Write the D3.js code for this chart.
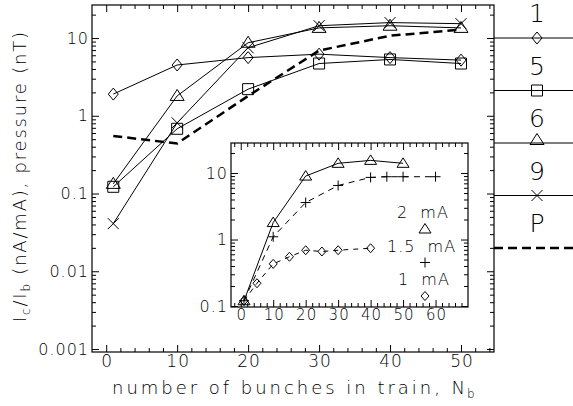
<!DOCTYPE html>
<html>
<head>
<meta charset="utf-8">
<script src="https://d3js.org/d3.v7.min.js"></script>
<style>
  body { margin: 0; background: #fff; }
  svg text { font-family: "DejaVu Sans", "Liberation Sans", sans-serif; font-weight: 200; fill: #000; }
  .tick line { stroke: #000; stroke-width: 1px; }
  .tick text { letter-spacing: 1px; }
  .frame { fill: none; stroke: #000; stroke-width: 1.2px; }
  .serie { fill: none; stroke: #000; stroke-width: 1px; }
  .marker { fill: none; stroke: #000; stroke-width: 1px; }
</style>
</head>
<body>
<svg id="chart" width="573" height="406"></svg>
<script>
// ---- main panel data
const bunches = [1, 10, 20, 30, 40, 50];
const ratio1 = [1.9, 4.5, 5.6, 6.2, 5.6, 5.2];
const ratio5 = [0.122, 0.68, 2.2, 4.7, 5.3, 4.7];
const ratio6 = [0.133, 1.8, 8.7, 13.5, 14.4, 13.5];
const ratio9 = [0.041, 0.81, 7.5, 14.4, 15.8, 15.3];
const pressure = [0.55, 0.44, 1.8, 6.9, 10.7, 12.8];
const legendLabels = ["1", "5", "6", "9", "P"];
const xTicks = [0, 10, 20, 30, 40, 50];
const yTicks = [0.001, 0.01, 0.1, 1, 10];
const yTickLabels = ["0.001", "0.01", "0.1", "1", "10"];

// ---- inset data
const inset2x = [1, 10, 20, 30, 40, 50];
const inset2mA = [0.12, 1.8, 9, 14, 15.5, 14];
const inset15x = [1, 10, 20, 30, 40, 45, 50, 60];
const inset15mA = [0.12, 1.1, 3.6, 6.5, 8.6, 8.8, 8.8, 8.8];
const inset1x = [1, 5, 10, 15, 20, 25, 30, 40];
const inset1mA = [0.12, 0.22, 0.43, 0.55, 0.69, 0.66, 0.69, 0.74];
const insetLabels = ["2  mA", "1.5  mA", "1  mA"];
const insetXTicks = [0, 10, 20, 30, 40, 50, 60];
const insetYTicks = [0.1, 1, 10];
const insetYTickLabels = ["0.1", "1", "10"];

const svg = d3.select("#chart");

// marker shapes, centred on 0,0
const shapes = {
  diamond: "M0,-6L5,0L0,6L-5,0Z",
  square: "M-5.5,-5.5h11v11h-11Z",
  triangle: "M0,-6.5L7,4.5L-7,4.5Z",
  cross: "M-5.5,-5.5L5.5,5.5M5.5,-5.5L-5.5,5.5",
  smallTriangle: "M0,-5.5L6,4L-6,4Z",
  plus: "M-5,0H5M0,-5V5",
  smallDiamond: "M0,-4.5L4,0L0,4.5L-4,0Z"
};

// minor ticks of a log axis (2..9 of every decade inside the domain)
function logMinor(domain) {
  const out = [];
  for (let e = Math.floor(Math.log10(domain[0])); e <= Math.ceil(Math.log10(domain[1])); e++) {
    for (let k = 2; k <= 9; k++) {
      const v = k * Math.pow(10, e);
      if (v > domain[0] && v < domain[1]) out.push(v);
    }
  }
  return out;
}

// draws one set of ticks (inward) with optional labels
function ticks(g, axis, values, size, labels, pad) {
  const a = axis.tickValues(values).tickSizeInner(-size).tickSizeOuter(0).tickPadding(pad || 3)
    .tickFormat((d, i) => labels ? labels[i] : "");
  g.call(a);
  g.select(".domain").remove();
  return g;
}

function panel(x, y, box, opt) {
  const xMinor = d3.range(Math.ceil(x.domain()[0] / 2) * 2, x.domain()[1], 2)
    .filter(v => v % 10 !== 0 && v > x.domain()[0]);
  const yMinor = logMinor(y.domain());

  const gb = svg.append("g").attr("transform", `translate(0,${box.bottom})`);
  ticks(gb.append("g"), d3.axisBottom(x), opt.xTicks, 7, opt.xTicks.map(String), opt.xPad)
    .selectAll("text").style("font-size", opt.xFont + "px").attr("dx", "0.5px");
  ticks(gb.append("g"), d3.axisBottom(x), xMinor, 4);

  const gt = svg.append("g").attr("transform", `translate(0,${box.top})`);
  ticks(gt.append("g"), d3.axisTop(x), opt.xTicks, 7);
  ticks(gt.append("g"), d3.axisTop(x), xMinor, 4);

  const gl = svg.append("g").attr("transform", `translate(${box.left},0)`);
  ticks(gl.append("g"), d3.axisLeft(y), opt.yTicks, 7, opt.yLabels, opt.yPad)
    .selectAll("text").style("font-size", opt.yFont + "px");
  ticks(gl.append("g"), d3.axisLeft(y), yMinor, 4);

  const gr = svg.append("g").attr("transform", `translate(${box.right},0)`);
  ticks(gr.append("g"), d3.axisRight(y), opt.yTicks, 7);
  ticks(gr.append("g"), d3.axisRight(y), yMinor, 4);

  svg.append("rect").attr("class", "frame")
    .attr("x", box.left).attr("y", box.top)
    .attr("width", box.right - box.left).attr("height", box.bottom - box.top);
}

function serie(x, y, xs, ys, shape, dash, width) {
  const line = d3.line().x(d => x(d[0])).y(d => y(d[1]));
  const pts = d3.zip(xs, ys);
  svg.append("path").attr("class", "serie").attr("d", line(pts))
    .style("stroke-dasharray", dash || null)
    .style("stroke-width", width || 1);
  if (shape) {
    svg.append("g").selectAll("path").data(pts).join("path")
      .attr("class", "marker").attr("d", shapes[shape])
      .attr("transform", d => `translate(${x(d[0])},${y(d[1])})`);
  }
}

// ---- main panel
const main = { left: 92, right: 494, top: 5, bottom: 352 };
const x = d3.scaleLinear().domain([-2, 54.65]).range([main.left, main.right]);
const y = d3.scaleLog().domain([0.000915, 26.6]).range([main.bottom, main.top]);

panel(x, y, main, { xTicks, yTicks, yLabels: yTickLabels, xFont: 17, yFont: 16, xPad: 3, yPad: 3 });

serie(x, y, bunches, ratio1, "diamond");
serie(x, y, bunches, ratio5, "square");
serie(x, y, bunches, ratio6, "triangle");
serie(x, y, bunches, ratio9, "cross");
serie(x, y, bunches, pressure, null, "9,5", 2.5);

// ---- legend on the right
const legendShapes = ["diamond", "square", "triangle", "cross", null];
legendLabels.forEach((lab, i) => {
  const ly = 38 + i * 52.5;
  svg.append("text").attr("x", 537).attr("y", ly - 16)
    .attr("text-anchor", "middle").style("font-size", "25px").text(lab);
  svg.append("line").attr("x1", main.right).attr("x2", 573).attr("y1", ly).attr("y2", ly)
    .attr("stroke", "#000")
    .attr("stroke-width", legendShapes[i] ? 1 : 2.5)
    .attr("stroke-dasharray", legendShapes[i] ? null : "9,5");
  if (legendShapes[i]) {
    svg.append("path").attr("class", "marker").attr("d", shapes[legendShapes[i]])
      .attr("transform", `translate(537,${legendShapes[i] === "triangle" ? ly - 3 : ly})`);
  }
});

// ---- axis titles
svg.append("text").attr("x", 112).attr("y", 394)
  .attr("textLength", 353).attr("lengthAdjust", "spacing")
  .style("font-size", "18px").text("number of bunches in train, N");
svg.append("text").attr("x", 467).attr("y", 398).style("font-size", "12px").text("b");

const yt = svg.append("text")
  .attr("transform", "translate(26,322) rotate(-90)")
  .attr("textLength", 290).attr("lengthAdjust", "spacing")
  .style("font-size", "18px");
yt.append("tspan").text("I");
yt.append("tspan").attr("dy", 4).style("font-size", "12px").text("c");
yt.append("tspan").attr("dy", -4).text("/I");
yt.append("tspan").attr("dy", 4).style("font-size", "12px").text("b");
yt.append("tspan").attr("dy", -4).style("white-space", "pre").text(" (nA/mA), pressure (nT)");

// ---- inset
const inset = { left: 231, right: 468, top: 143, bottom: 307 };
const xi = d3.scaleLinear().domain([-3, 70]).range([inset.left, inset.right]);
const yi = d3.scaleLog().domain([0.0966, 28.3]).range([inset.bottom, inset.top]);

svg.append("rect").attr("x", inset.left).attr("y", inset.top)
  .attr("width", inset.right - inset.left).attr("height", inset.bottom - inset.top)
  .attr("fill", "#fff");
panel(xi, yi, inset, { xTicks: insetXTicks, yTicks: insetYTicks, yLabels: insetYTickLabels,
  xFont: 15, yFont: 16, xPad: 2, yPad: 3 });

serie(xi, yi, inset2x, inset2mA, "smallTriangle");
serie(xi, yi, inset15x, inset15mA, "plus", "6,5");
serie(xi, yi, inset1x, inset1mA, "smallDiamond", "5,5");

// inset legend: label then symbol below it
const insetShapes = ["smallTriangle", "plus", "smallDiamond"];
const insetStart = [397, 387, 398];
insetLabels.forEach((lab, i) => {
  const ly = 212 + i * 33.5;
  svg.append("text").attr("x", insetStart[i]).attr("y", ly + 6)
    .style("font-size", "16px").style("letter-spacing", "1px").style("white-space", "pre").text(lab);
  svg.append("path").attr("class", "marker").attr("d", shapes[insetShapes[i]])
    .attr("transform", `translate(425,${ly + 17})`);
});
</script>
</body>
</html>
